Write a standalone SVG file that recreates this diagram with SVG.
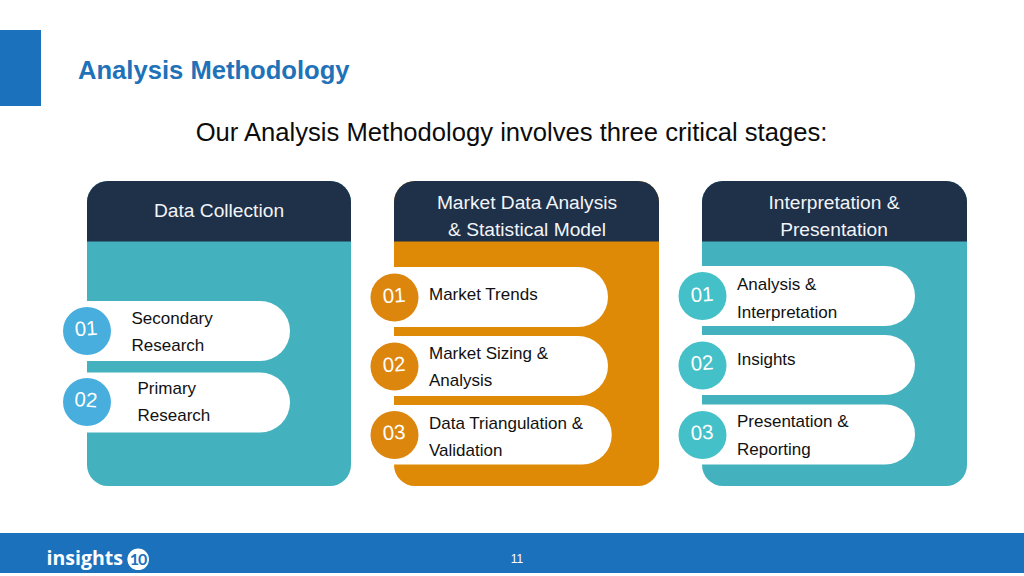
<svg xmlns="http://www.w3.org/2000/svg" width="1024" height="576" viewBox="0 0 1024 576">
<style>
text{font-family:"Liberation Sans",Arial,sans-serif}
.hd{fill:#1F3049}
.ht{fill:#F2F5F8;font-size:19.2px;text-anchor:middle}
.t{fill:#111;font-size:17px}
.n{fill:#fff;font-size:20.5px;text-anchor:middle}
.p{fill:#fff}
.teal{fill:#44B2BE}
.or{fill:#DF8A07}
.cy{fill:#44C0C8}
.bl{fill:#47AEDD}
.oc{fill:#DD860D}
</style>
<rect width="1024" height="576" fill="#fff"/>
<g id="title">
<rect x="0" y="30" width="41" height="76" fill="#1C71BC"/>
<text x="78" y="78.500" font-size="25.600" font-weight="700" fill="#1F72B8">Analysis Methodology</text>
<text x="511.500" y="141" font-size="25.600" text-anchor="middle" fill="#0c0c0c">Our Analysis Methodology involves three critical stages:</text>
</g>
<g id="card1">
<rect class="teal" x="87" y="181" width="264" height="305" rx="21"/>
<path class="hd" d="M87 241.500V202a21 21 0 0 1 21-21h222a21 21 0 0 1 21 21v39.500z"/>
<text class="ht" x="219" y="216.500">Data Collection</text>
</g>
<g id="card1-item1">
<path class="p" d="M87 301h173a30 30 0 0 1 0 60H87z"/>
<circle class="bl" cx="87" cy="331" r="24"/>
<text class="n" x="86" y="335.500" transform="rotate(-4 86 328)">01</text>
<text class="t" x="131.500" y="323.500">Secondary</text>
<text class="t" x="131.500" y="351">Research</text>
</g>
<g id="card1-item2">
<path class="p" d="M87 372.500h173a30 30 0 0 1 0 60H87z"/>
<circle class="bl" cx="87" cy="402" r="24"/>
<text class="n" x="86" y="406.800" transform="rotate(4 86 399.300)">02</text>
<text class="t" x="137.500" y="393.500">Primary</text>
<text class="t" x="137.500" y="421">Research</text>
</g>
<g id="card2">
<rect class="or" x="394" y="181" width="265" height="305" rx="21"/>
<path class="hd" d="M394 241.500V202a21 21 0 0 1 21-21h223a21 21 0 0 1 21 21v39.500z"/>
<text class="ht" x="527" y="208.500">Market Data Analysis</text>
<text class="ht" x="527" y="235.500">&amp; Statistical Model</text>
</g>
<g id="card2-item1">
<path class="p" d="M394 267h184a30 30 0 0 1 0 60H394z"/>
<circle class="oc" cx="394.500" cy="297.500" r="24"/>
<text class="n" x="394" y="302.500" transform="rotate(-4 394 295)">01</text>
<text class="t" x="429" y="299.500">Market Trends</text>
</g>
<g id="card2-item2">
<path class="p" d="M394 336h184a30 30 0 0 1 0 60H394z"/>
<circle class="oc" cx="394.500" cy="366.500" r="24"/>
<text class="n" x="394" y="371.500" transform="rotate(-4 394 364)">02</text>
<text class="t" x="429" y="358.500">Market Sizing &amp;</text>
<text class="t" x="429" y="386">Analysis</text>
</g>
<g id="card2-item3">
<path class="p" d="M394 405h188a29.750 29.750 0 0 1 0 59.500H394z"/>
<circle class="oc" cx="394.500" cy="435" r="24"/>
<text class="n" x="394" y="439.500" transform="rotate(-4 394 432)">03</text>
<text class="t" x="429" y="428.500">Data Triangulation &amp;</text>
<text class="t" x="429" y="456">Validation</text>
</g>
<g id="card3">
<rect class="teal" x="702" y="181" width="265" height="305" rx="21"/>
<path class="hd" d="M702 241.500V202a21 21 0 0 1 21-21h223a21 21 0 0 1 21 21v39.500z"/>
<text class="ht" x="834" y="208.500">Interpretation &amp;</text>
<text class="ht" x="834" y="235.500">Presentation</text>
</g>
<g id="card3-item1">
<path class="p" d="M702 266h183a30 30 0 0 1 0 60H702z"/>
<circle class="cy" cx="702.500" cy="296" r="24"/>
<text class="n" x="702" y="301.500" transform="rotate(-4 702 294)">01</text>
<text class="t" x="737" y="290">Analysis &amp;</text>
<text class="t" x="737" y="317.500">Interpretation</text>
</g>
<g id="card3-item2">
<path class="p" d="M702 335h183a30 30 0 0 1 0 60H702z"/>
<circle class="cy" cx="702.500" cy="365.500" r="24"/>
<text class="n" x="702" y="370" transform="rotate(-4 702 362.700)">02</text>
<text class="t" x="737" y="365">Insights</text>
</g>
<g id="card3-item3">
<path class="p" d="M702 404.500h183a30 30 0 0 1 0 60H702z"/>
<circle class="cy" cx="702.500" cy="435" r="24"/>
<text class="n" x="702" y="439.500" transform="rotate(-4 702 432)">03</text>
<text class="t" x="737" y="427">Presentation &amp;</text>
<text class="t" x="737" y="455">Reporting</text>
</g>
<g id="footer">
<rect x="0" y="533" width="1024" height="40" fill="#1C71BC"/>
<text x="46.500" y="565" font-size="19.500" font-weight="700" fill="#fff" style="font-family:'Open Sans',Lato,sans-serif">insights</text>
<circle cx="138.200" cy="559.300" r="10.800" fill="#fff"/>
<text x="138" y="565" font-size="16" font-weight="700" fill="#1C71BC" text-anchor="middle" letter-spacing="-1" style="font-family:Lato,sans-serif">10</text>
<text x="517" y="563" font-size="12" fill="#fff" text-anchor="middle">11</text>
</g>
</svg>
